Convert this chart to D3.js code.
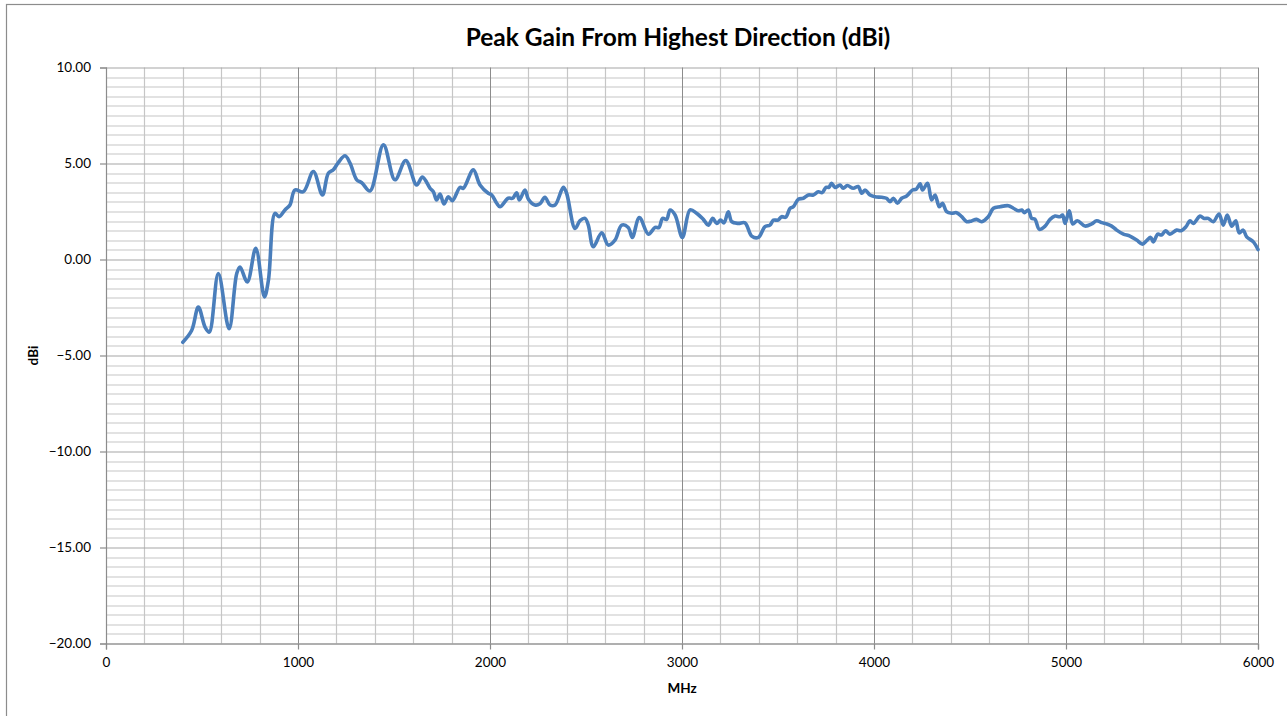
<!DOCTYPE html>
<html>
<head>
<meta charset="utf-8">
<script src="https://cdn.jsdelivr.net/npm/d3@7"></script>
<style>
  body { margin: 0; background: #fff; }
  svg { display: block; font-family: Lato, "Open Sans", sans-serif; }
</style>
</head>
<body>
<svg id="chart"></svg>
<script>
// frequency in MHz
const freqMHz = [
  400, 446, 481, 516, 538, 585, 641, 681, 698, 736, 780, 825, 846, 880, 901, 932, 958, 984,
  1028, 1080, 1127, 1158, 1184, 1210, 1245, 1271, 1306, 1332, 1375, 1445, 1505, 1561, 1618, 1648,
  1688, 1705, 1722, 1740, 1760, 1783, 1804, 1844, 1861, 1913, 1948, 1991, 2009, 2035, 2052, 2095,
  2118, 2139, 2153, 2182, 2200, 2234, 2260, 2286, 2313, 2339, 2382, 2399, 2443, 2469, 2495, 2512,
  2538, 2582, 2616, 2651, 2686, 2720, 2741, 2778, 2825, 2860, 2880, 2899, 2920, 2938, 2964, 3002,
  3042, 3076, 3111, 3137, 3160, 3181, 3201, 3219, 3241, 3259, 3293, 3328, 3363, 3398, 3432, 3458,
  3476, 3500, 3519, 3540, 3563, 3580, 3606, 3632, 3658, 3684, 3710, 3730, 3750, 3765, 3779, 3797,
  3823, 3840, 3861, 3892, 3918, 3936, 3953, 3979, 4005, 4040, 4065, 4083, 4101, 4122, 4144, 4170,
  4201, 4220, 4240, 4253, 4279, 4300, 4318, 4340, 4357, 4378, 4404, 4430, 4457, 4483, 4508, 4534,
  4561, 4595, 4622, 4656, 4700, 4726, 4752, 4770, 4783, 4804, 4821, 4838, 4861, 4891, 4917, 4943,
  4969, 4982, 4995, 5017, 5035, 5059, 5099, 5134, 5160, 5186, 5212, 5238, 5264, 5299, 5333, 5368,
  5398, 5420, 5441, 5455, 5478, 5498, 5519, 5541, 5576, 5600, 5625, 5646, 5663, 5698, 5720, 5741,
  5767, 5797, 5819, 5840, 5863, 5884, 5902, 5923, 5941, 5976, 6000
];

// peak gain in dBi
const gainDBi = [
  -4.31, -3.70, -2.48, -3.52, -3.78, -0.73, -3.61, -0.73, -0.39, -1.17, 0.58, -1.95, -1.08, 2.40, 2.23, 2.58, 2.84, 3.62,
  3.53, 4.58, 3.36, 4.49, 4.67, 5.05, 5.40, 5.02, 4.15, 4.00, 3.57, 5.97, 4.15, 5.16, 3.88, 4.29,
  3.71, 3.53, 3.10, 3.41, 2.89, 3.27, 3.06, 3.76, 3.71, 4.67, 3.88, 3.45, 3.36, 2.93, 2.75, 3.19,
  3.19, 3.48, 3.10, 3.62, 3.14, 2.84, 2.90, 3.24, 2.84, 2.84, 3.76, 3.45, 1.62, 2.02, 2.14, 1.79,
  0.66, 1.39, 0.75, 1.01, 1.79, 1.67, 1.15, 2.19, 1.32, 1.67, 1.67, 2.14, 2.09, 2.58, 2.32, 1.15,
  2.58, 2.41, 2.09, 1.79, 2.14, 1.88, 2.05, 1.91, 2.49, 1.97, 1.88, 1.91, 1.22, 1.15, 1.71, 1.79,
  2.05, 2.05, 2.23, 2.20, 2.67, 2.75, 3.14, 3.19, 3.36, 3.36, 3.53, 3.48, 3.76, 3.76, 3.97, 3.75,
  3.88, 3.71, 3.85, 3.71, 3.80, 3.45, 3.62, 3.36, 3.27, 3.24, 3.19, 3.01, 3.19, 2.93, 3.19, 3.31,
  3.62, 3.66, 3.94, 3.62, 3.97, 3.10, 3.36, 2.75, 2.93, 2.49, 2.41, 2.44, 2.23, 1.97, 2.01, 2.09,
  1.97, 2.23, 2.67, 2.75, 2.80, 2.67, 2.54, 2.58, 2.44, 2.58, 2.14, 2.10, 1.57, 1.74, 2.09, 2.26,
  2.23, 2.32, 1.88, 2.54, 1.85, 2.02, 1.74, 1.85, 2.02, 1.92, 1.85, 1.74, 1.53, 1.32, 1.22, 1.01,
  0.80, 0.98, 1.15, 0.92, 1.32, 1.28, 1.50, 1.32, 1.53, 1.50, 1.71, 2.02, 1.88, 2.26, 2.14, 2.14,
  1.97, 2.37, 1.79, 2.32, 1.74, 2.02, 1.39, 1.53, 1.18, 0.92, 0.52
];

const xTicks = [0, 1000, 2000, 3000, 4000, 5000, 6000];
const yTicks = [10, 5, 0, -5, -10, -15, -20];

const chartTitle = "Peak Gain From Highest Direction (dBi)";
const xTitle = "MHz";
const yTitle = "dBi";

const data = freqMHz.map((f, i) => ({ f: f, g: gainDBi[i] }));

const W = 1287, H = 716;
const margin = { top: 67.5, right: 29, bottom: 72.5, left: 106 };
const width = W - margin.left - margin.right,
      height = H - margin.top - margin.bottom;

const svg = d3.select("#chart").attr("width", W).attr("height", H);

// chart border
svg.append("rect")
  .attr("x", 6.5).attr("y", 4.5)
  .attr("width", W + 10).attr("height", H + 10)
  .attr("fill", "#fff").attr("stroke", "#8c8c8c").attr("stroke-width", 1.2);

const g = svg.append("g")
  .attr("transform", "translate(" + margin.left + "," + margin.top + ")");

const x = d3.scaleLinear().domain([0, 6000]).range([0, width]);
const y = d3.scaleLinear().domain([-20, 10]).range([height, 0]);

// minor grid
g.append("g").selectAll("line")
  .data(d3.range(-20, 10.01, 0.5).filter(v => v % 5 !== 0))
  .join("line")
    .attr("x1", 0).attr("x2", width)
    .attr("y1", d => Math.round(y(d)) + 0.5).attr("y2", d => Math.round(y(d)) + 0.5)
    .attr("stroke", "#c6c6c6").attr("stroke-width", 1.2);

g.append("g").selectAll("line")
  .data(d3.range(0, 6001, 200).filter(v => v % 1000 !== 0))
  .join("line")
    .attr("x1", d => Math.round(x(d)) + 0.5).attr("x2", d => Math.round(x(d)) + 0.5)
    .attr("y1", 0).attr("y2", height)
    .attr("stroke", "#c6c6c6").attr("stroke-width", 1.2);

// major grid
g.append("g").selectAll("line")
  .data(yTicks)
  .join("line")
    .attr("x1", 0).attr("x2", width)
    .attr("y1", d => Math.round(y(d)) + 0.5).attr("y2", d => Math.round(y(d)) + 0.5)
    .attr("stroke", "#a6a6a6").attr("stroke-width", 1.2);

g.append("g").selectAll("line")
  .data(xTicks)
  .join("line")
    .attr("x1", d => Math.round(x(d)) + 0.5).attr("x2", d => Math.round(x(d)) + 0.5)
    .attr("y1", 0).attr("y2", height)
    .attr("stroke", "#8c8c8c").attr("stroke-width", 1);

// axes
const xAxis = g.append("g")
  .attr("transform", "translate(0," + height + ")")
  .call(d3.axisBottom(x).tickValues(xTicks).tickSize(6).tickPadding(8).tickFormat(d3.format("d")));

const yAxis = g.append("g")
  .call(d3.axisLeft(y).tickValues(yTicks).tickSize(6).tickPadding(9).tickFormat(d3.format(".2f")));

[xAxis, yAxis].forEach(a => {
  a.select(".domain").attr("stroke", "#8c8c8c").attr("stroke-width", 1.2);
  a.selectAll(".tick line").attr("stroke", "#8c8c8c").attr("stroke-width", 1.2);
  a.selectAll("text").attr("font-family", "Lato, sans-serif").attr("font-size", 13.5).attr("fill", "#000");
});

// gain line
const line = d3.line()
  .x(d => x(d.f))
  .y(d => y(d.g))
  .curve(d3.curveCatmullRom.alpha(0.5));

g.append("path")
  .datum(data)
  .attr("fill", "none")
  .attr("stroke", "#4a7ebb")
  .attr("stroke-width", 3.6)
  .attr("stroke-linejoin", "round")
  .attr("stroke-linecap", "round")
  .attr("d", line);

// titles
svg.append("text")
  .attr("x", 678).attr("y", 46)
  .attr("text-anchor", "middle")
  .attr("font-size", 24.5).attr("font-weight", "bold")
  .text(chartTitle);

svg.append("text")
  .attr("x", margin.left + width / 2).attr("y", 693)
  .attr("text-anchor", "middle")
  .attr("font-size", 13.5).attr("font-weight", "bold")
  .text(xTitle);

svg.append("text")
  .attr("transform", "translate(38," + (margin.top + height / 2) + ") rotate(-90)")
  .attr("text-anchor", "middle")
  .attr("font-size", 13.5).attr("font-weight", "bold")
  .text(yTitle);
</script>
</body>
</html>
